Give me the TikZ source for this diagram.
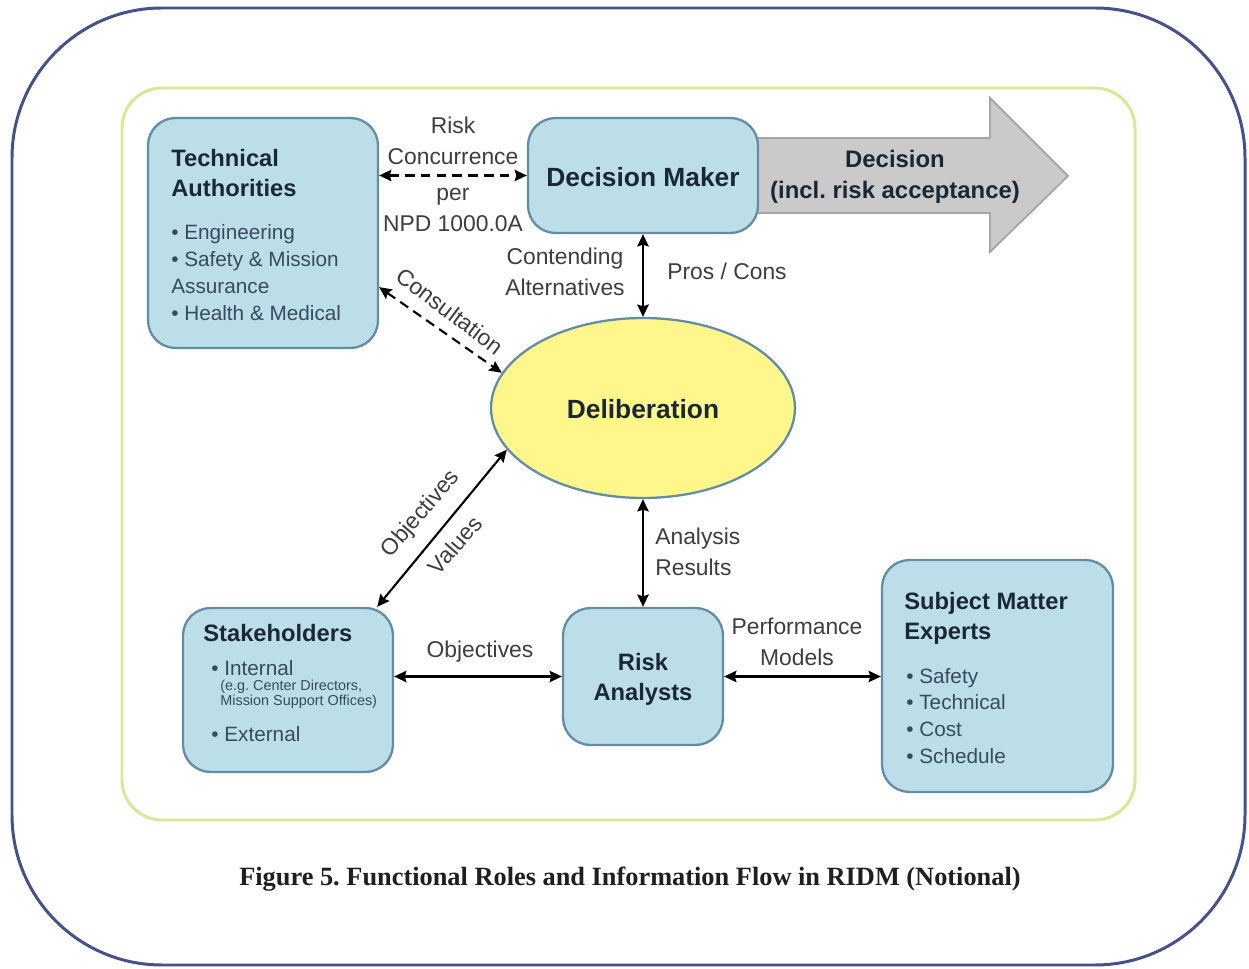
\documentclass[tikz,border=0pt]{standalone}
\usepackage{fontspec}
\setmainfont{Liberation Sans}
\newfontfamily\capfont{Liberation Serif}
\usetikzlibrary{shapes.geometric,arrows.meta}
\definecolor{boxfill}{RGB}{188,222,233}
\definecolor{boxdraw}{RGB}{100,140,165}
\definecolor{ellfill}{RGB}{255,246,140}
\definecolor{outercol}{RGB}{70,80,140}
\definecolor{innercol}{RGB}{220,230,150}
\definecolor{arrfill}{RGB}{202,202,202}
\definecolor{arrdraw}{RGB}{165,165,165}
\definecolor{titlecol}{RGB}{25,40,52}
\definecolor{itemcol}{RGB}{55,75,92}
\definecolor{lblcol}{RGB}{62,62,62}
\frenchspacing
\begin{document}
\begin{tikzpicture}[x=0.02cm,y=-0.02cm,
  box/.style={draw=boxdraw,line width=1.3pt,fill=boxfill,rounded corners=0.55cm,inner sep=0pt},
  ttl/.style={text=titlecol,font=\bfseries\fontsize{13.5}{17}\selectfont,inner sep=0pt},
  bigttl/.style={text=titlecol,font=\bfseries\fontsize{15}{18}\selectfont,inner sep=0pt},
  itm/.style={text=itemcol,font=\fontsize{11.8}{15.3}\selectfont,inner sep=0pt,align=left},
  small/.style={text=itemcol,font=\fontsize{8.2}{8.6}\selectfont,inner sep=0pt,align=left},
  lbl/.style={text=lblcol,font=\fontsize{13}{17.6}\selectfont,inner sep=0pt},
  conn/.style={line width=1.2pt,{Stealth[length=7pt,width=6.5pt,inset=1pt]}-{Stealth[length=7pt,width=6.5pt,inset=1pt]}},
  dconn/.style={conn,dash pattern=on 5.5pt off 3.5pt}
]
\useasboundingbox (0,0) rectangle (1249,969);
\fill[white] (0,0) rectangle (1249,969);
% frames
\draw[outercol,line width=1.7pt,rounded corners=3cm] (12,8) rectangle (1245,965);
\draw[innercol,line width=1.7pt,rounded corners=0.8cm] (122,88) rectangle (1135,820);
% decision arrow
\draw[arrdraw,fill=arrfill,line width=1pt] (750,138) -- (990,138) -- (990,98) -- (1068,176) -- (990,252) -- (990,213) -- (750,213) -- cycle;
\node[text=titlecol,font=\bfseries\fontsize{13.6}{17.6}\selectfont,align=center,inner sep=0pt] (dec) at (895,177) {Decision\\(incl. risk acceptance)};
% boxes
\node[box,minimum width=4.6cm,minimum height=4.6cm] (ta) at (263,233) {};
\node[box,minimum width=4.6cm,minimum height=2.3cm] (dm) at (643,175.5) {};
\node[box,minimum width=4.2cm,minimum height=3.28cm] (st) at (288,690) {};
\node[box,minimum width=3.2cm,minimum height=2.74cm] (ra) at (643,676.5) {};
\node[box,minimum width=4.62cm,minimum height=4.64cm] (sme) at (997.5,676) {};
\node[ellipse,draw=boxdraw,line width=1.3pt,fill=ellfill,minimum width=6.08cm,minimum height=3.6cm,inner sep=0pt] (del) at (643,408) {};
% box texts
\node[ttl,align=left,anchor=west] (tat) at (171,173) {Technical\\Authorities};
\node[itm,anchor=west] (tai) at (171,272.5) {• Engineering\\• Safety \& Mission\\Assurance\\• Health \& Medical};
\node[bigttl] (dmt) at (643,177) {Decision Maker};
\node[bigttl] (delt) at (643,409) {Deliberation};
\node[ttl,anchor=west] (stt) at (203,633) {Stakeholders};
\node[itm,anchor=west] (sti1) at (211,668) {• Internal};
\node[small,anchor=west] (sti2) at (220,694) {(e.g. Center Directors,\\Mission Support Offices)};
\node[itm,anchor=west] (sti3) at (211,734) {• External};
\node[ttl,align=center] (rat) at (643,679) {Risk\\Analysts};
\node[ttl,align=left,anchor=west] (smet) at (904,618.5) {Subject Matter\\Experts};
\node[itm,anchor=west] (smei) at (906,716) {• Safety\\• Technical\\• Cost\\• Schedule};
% connectors
\draw[dconn] (ta.east |- dm.west) -- (dm.west);
\draw[dconn] (ta.-25) -- (del.166);
\draw[conn] (dm.south) -- (del.north);
\draw[conn] (del.197) -- (st.43);
\draw[conn] (del.south) -- (ra.north);
\draw[conn] (st.east |- ra.west) -- (ra.west);
\draw[conn] (ra.east) -- (sme.west |- ra.east);
% connector labels
\node[lbl,align=center] (l1) at (453,141) {Risk\\Concurrence};
\node[lbl,align=center] (l2) at (453,210) {per\\NPD 1000.0A};
\node[lbl,align=center] (l3) at (565,272) {Contending\\Alternatives};
\node[lbl] (l4) at (727,271) {Pros / Cons};
\node[lbl,rotate=-37] (l5) at (450,311) {Consultation};
\node[lbl,rotate=49] (l6) at (421,514) {Objectives};
\node[lbl,rotate=49] (l7) at (455,545) {Values};
\node[lbl,align=left,anchor=west] (l8) at (655,552) {Analysis\\Results};
\node[lbl] (l9) at (480,652) {Objectives};
\node[lbl,align=center] (l10) at (797,642) {Performance\\Models};
% caption
\node[text=black!88,font=\capfont\bfseries\fontsize{15}{17}\selectfont,inner sep=0pt] (cap) at (630,879) {Figure 5. Functional Roles and Information Flow in RIDM (Notional)};
\end{tikzpicture}
\end{document}
